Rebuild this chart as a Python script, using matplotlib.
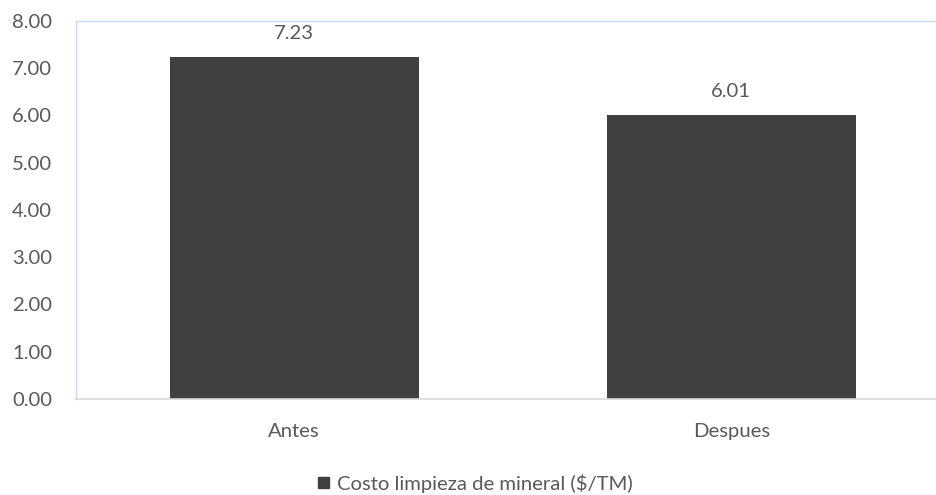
#!/usr/bin/env python3

import matplotlib.pyplot as plt
from matplotlib.patches import Patch

categories = ["Antes", "Despues"]
costo = [7.23, 6.01]
y_ticks = [0, 1, 2, 3, 4, 5, 6, 7, 8]
series_label = "Costo limpieza de mineral ($/TM)"

plt.rcParams["font.family"] = ["Lato", "DejaVu Sans"]
text_color = "#595959"
bar_color = "#404040"

fig = plt.figure(figsize=(9.36, 4.95), dpi=100)
# plot area runs past the right edge, like the original export
ax = fig.add_axes([0.0807, 0.194, 0.934, 0.7636])

x = range(len(categories))
bars = ax.bar(x, costo, width=0.57, color=bar_color, zorder=2)

for rect, val in zip(bars, costo):
    ax.annotate(f"{val:.2f}", (rect.get_x() + rect.get_width() / 2, val),
                xytext=(0, 11), textcoords="offset points",
                ha="center", va="bottom", fontsize=14.6, color=text_color)

ax.set_xlim(-0.5, 1.5)
ax.set_ylim(0, 8)
ax.set_xticks(list(x))
ax.set_xticklabels(categories)
ax.set_yticks(y_ticks)
ax.set_yticklabels([f"{t:.2f}" for t in y_ticks])
ax.tick_params(axis="both", length=0, labelsize=14.6, colors=text_color)
ax.tick_params(axis="y", pad=17)
ax.tick_params(axis="x", pad=17)

for side in ["left", "top", "right"]:
    ax.spines[side].set_color("#c6d9f1")
    ax.spines[side].set_linewidth(1.0)
ax.spines["bottom"].set_color("#d9d9d9")
ax.spines["bottom"].set_linewidth(1.2)

handle = Patch(facecolor=bar_color, edgecolor=bar_color)
fig.legend([handle], [series_label], loc="center", bbox_to_anchor=(0.508, 0.024),
           frameon=False, fontsize=14.6, labelcolor=text_color,
           handlelength=0.5, handleheight=0.5, handletextpad=0.4)

fig.savefig("out.png", dpi=100)
